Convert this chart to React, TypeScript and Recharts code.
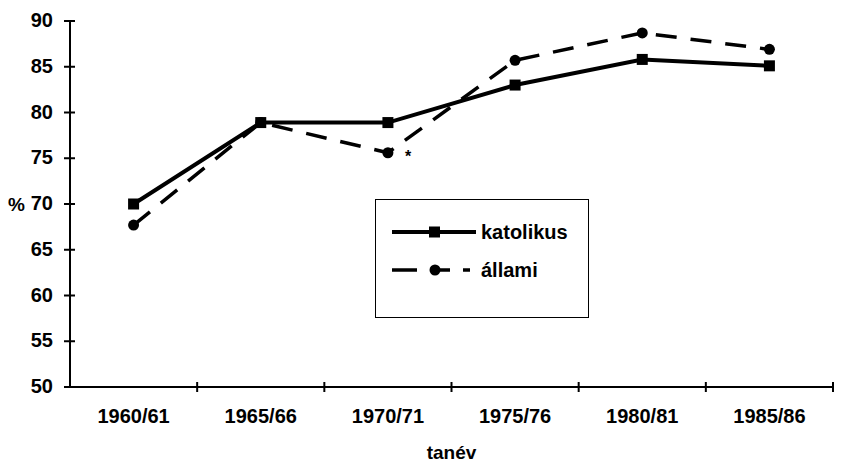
import React from 'react';
import { LineChart, Line, XAxis, YAxis, Legend, LabelList } from 'recharts';

const categories = ['1960/61', '1965/66', '1970/71', '1975/76', '1980/81', '1985/86'];
const katolikus = [70.0, 78.9, 78.9, 83.0, 85.8, 85.1];
const allami = [67.7, 78.9, 75.6, 85.7, 88.7, 86.9];
const allamiNotes = ['', '', '*', '', '', ''];
const yTicks = [50, 55, 60, 65, 70, 75, 80, 85, 90];

const data = categories.map((c, i) => ({
  tanev: c,
  katolikus: katolikus[i],
  allami: allami[i],
  note: allamiNotes[i],
}));

const W = 845;
const H = 463;
const MARGIN = { top: 21, right: 12, left: 0, bottom: 0 };
const Y_W = 70;
const X_H = 76;
const BAND = (W - Y_W - MARGIN.left - MARGIN.right) / categories.length;
const FONT = '"Liberation Sans", Arial, Helvetica, sans-serif';

const XTick = (props: any) => {
  const { x, y, payload } = props;
  return (
    <g>
      <line x1={x + BAND / 2} x2={x + BAND / 2} y1={y - 5} y2={y + 5} stroke="#000" strokeWidth={2} />
      <text x={x} y={y + 36} textAnchor="middle" fontFamily={FONT} fontWeight="bold" fontSize={20} fill="#000">
        {payload.value}
      </text>
    </g>
  );
};

const YTick = (props: any) => {
  const { x, y, payload } = props;
  return (
    <g>
      <line x1={x - 6} x2={x + 5} y1={y} y2={y} stroke="#000" strokeWidth={2} />
      <text x={x - 17} y={y + 6} textAnchor="end" fontFamily={FONT} fontWeight="bold" fontSize={20} fill="#000">
        {payload.value}
      </text>
    </g>
  );
};

const SquareDot = (p: any) => (
  <rect key={`sq-${p.index}`} x={p.cx - 5.5} y={p.cy - 5.5} width={11} height={11} fill="#000" />
);
const CircleDot = (p: any) => <circle key={`ci-${p.index}`} cx={p.cx} cy={p.cy} r={5.5} fill="#000" />;

const legendStyles: Record<string, { dash?: string; width: number; marker: 'square' | 'circle' }> = {
  katolikus: { width: 4, marker: 'square' },
  allami: { dash: '25 14 19 13 7 20', width: 3.5, marker: 'circle' },
};

const LegendBox = (props: any) => {
  const payload = props.payload || [];
  return (
    <svg width={211} height={116} style={{ display: 'block' }}>
      {payload.map((entry: any, i: number) => {
        const st = legendStyles[entry.dataKey] || { width: 3, marker: 'square' };
        const cy = 32 + i * 38;
        return (
          <g key={entry.dataKey}>
            <line x1={16} x2={100} y1={cy} y2={cy} stroke="#000" strokeWidth={st.width} strokeDasharray={st.dash} />
            {st.marker === 'square' ? (
              <rect x={53} y={cy - 5.5} width={11} height={11} fill="#000" />
            ) : (
              <circle cx={59} cy={cy} r={5.5} fill="#000" />
            )}
            <text x={105} y={cy + 7} fontFamily={FONT} fontWeight="bold" fontSize={20} fill="#000">
              {entry.value}
            </text>
          </g>
        );
      })}
    </svg>
  );
};

export default function App() {
  return (
    <div style={{ position: 'absolute', left: 0, top: 0, width: W, height: H, background: '#fff' }}>
      <LineChart width={W} height={H} data={data} margin={MARGIN}>
        <XAxis
          dataKey="tanev"
          scale="band"
          height={X_H}
          tickSize={0}
          tickMargin={0}
          tick={<XTick />}
          axisLine={{ stroke: '#000', strokeWidth: 2 }}
          tickLine={false}
          interval={0}
          label={{ value: 'tanév', position: 'insideBottom', offset: 4, fill: '#000', fontFamily: FONT, fontWeight: 'bold', fontSize: 19 }}
        />
        <YAxis
          width={Y_W}
          domain={[50, 90]}
          ticks={yTicks}
          tickSize={0}
          tickMargin={0}
          tick={<YTick />}
          axisLine={{ stroke: '#000', strokeWidth: 2 }}
          tickLine={false}
          interval={0}
          label={{ value: '%', position: 'insideLeft', offset: 8, angle: 0, fill: '#000', fontFamily: FONT, fontWeight: 'bold', fontSize: 19 }}
        />
        <Legend
          layout="vertical"
          align="center"
          verticalAlign="middle"
          content={<LegendBox />}
          wrapperStyle={{
            position: 'absolute',
            left: 375,
            top: 199,
            width: 214,
            height: 119,
            border: '1.5px solid #000',
            background: '#fff',
            boxSizing: 'border-box',
          }}
        />
        <Line
          dataKey="katolikus"
          name="katolikus"
          stroke="#000"
          strokeWidth={4}
          dot={SquareDot}
          activeDot={false}
          isAnimationActive={false}
        />
        <Line
          dataKey="allami"
          name="állami"
          stroke="#000"
          strokeWidth={3.5}
          strokeDasharray="21 14"
          dot={CircleDot}
          activeDot={false}
          isAnimationActive={false}
        >
          <LabelList
            dataKey="note"
            content={(p: any) =>
              p.value ? (
                <text x={p.x + 17} y={p.y + 9} fontFamily={FONT} fontWeight="bold" fontSize={16} fill="#000">
                  {p.value}
                </text>
              ) : null
            }
          />
        </Line>
      </LineChart>
    </div>
  );
}
